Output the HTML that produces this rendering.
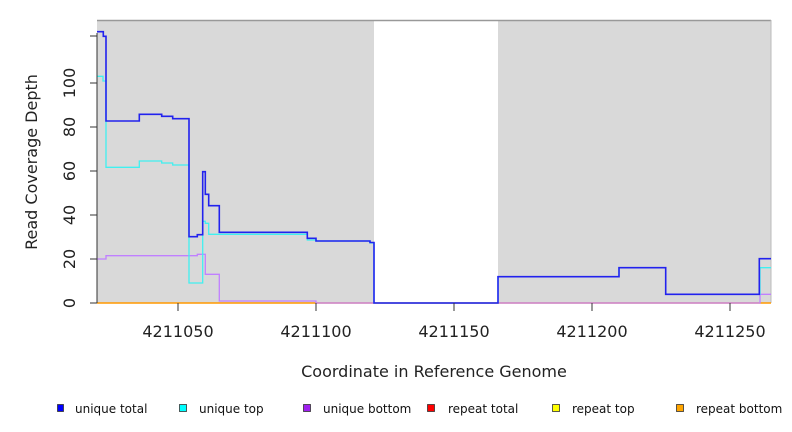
<!DOCTYPE html>
<html><head><meta charset="utf-8"><style>body{margin:0;background:#fff}svg{display:block}text{font-family:"DejaVu Sans","Liberation Sans",sans-serif}</style></head><body>
<svg width="792" height="432" viewBox="0 0 792 432" xmlns="http://www.w3.org/2000/svg">
<rect x="97" y="20" width="277" height="283" fill="#d9d9d9"/>
<rect x="498" y="20" width="273" height="283" fill="#d9d9d9"/>
<line x1="97" y1="20.5" x2="771" y2="20.5" stroke="#999" stroke-width="1.5"/>
<line x1="771" y1="20" x2="771" y2="303" stroke="#bbb"/>
<line x1="97" y1="303" x2="771" y2="303" stroke="#ff9900" stroke-width="1.5"/>
<polyline fill="none" stroke="#c080ff" stroke-width="1.3" points="97,259 106,259 106,255.7 197.3,255.7 197.3,254.3 205.3,254.3 205.3,274.3 219.3,274.3 219.3,301 316,301 316,303 760,303 760,294.3 771,294.3"/>
<polyline fill="none" stroke="#40f0f0" stroke-width="1.3" points="97,76.3 103,76.3 103,81 106,81 106,167.3 139.3,167.3 139.3,161 161.7,161 161.7,163 172.7,163 172.7,165 189,165 189,283 202.7,283 202.7,221.3 205.3,221.3 205.3,223.3 208.7,223.3 208.7,234.3 307.3,234.3 307.3,240 316,240 316,241 370,241 370,243 374,243 374,303 498,303 498,276.7 619,276.7 619,267.7 665.7,267.7 665.7,294.3 760,294.3 760,267.7 771,267.7"/>
<polyline fill="none" stroke="#2222ee" stroke-width="1.6" points="97,31.7 103.3,31.7 103.3,36.3 106,36.3 106,121 139.3,121 139.3,114.3 161.7,114.3 161.7,116.3 172.7,116.3 172.7,118.7 189,118.7 189,236.7 197.3,236.7 197.3,234.7 202.7,234.7 202.7,171.7 205.3,171.7 205.3,194.3 208.7,194.3 208.7,205.7 219.3,205.7 219.3,232.3 307.3,232.3 307.3,238.3 316,238.3 316,241 370,241 370,242.5 374,242.5 374,303 498,303 498,276.7 619,276.7 619,267.7 665.7,267.7 665.7,294.3 759.3,294.3 759.3,258.7 771,258.7"/>
<g stroke="#333" stroke-width="1">
<line x1="97" y1="33" x2="97" y2="303"/>
<line x1="90" y1="303" x2="97" y2="303"/><line x1="90" y1="259" x2="97" y2="259"/><line x1="90" y1="215" x2="97" y2="215"/><line x1="90" y1="171" x2="97" y2="171"/><line x1="90" y1="127" x2="97" y2="127"/><line x1="90" y1="83" x2="97" y2="83"/><line x1="90" y1="36" x2="97" y2="36"/>
<line x1="178" y1="303" x2="178" y2="311"/><line x1="316" y1="303" x2="316" y2="311"/><line x1="454" y1="303" x2="454" y2="311"/><line x1="592" y1="303" x2="592" y2="311"/><line x1="730" y1="303" x2="730" y2="311"/>
</g>
<g font-size="16" fill="#222" text-anchor="middle">
<text transform="translate(75,303) rotate(-90)">0</text>
<text transform="translate(75,259) rotate(-90)">20</text>
<text transform="translate(75,215) rotate(-90)">40</text>
<text transform="translate(75,171) rotate(-90)">60</text>
<text transform="translate(75,127) rotate(-90)">80</text>
<text transform="translate(75,83) rotate(-90)">100</text>
<text x="178" y="337">4211050</text><text x="316" y="337">4211100</text><text x="454" y="337">4211150</text><text x="592" y="337">4211200</text><text x="730" y="337">4211250</text>
<text x="434" y="377">Coordinate in Reference Genome</text>
<text transform="translate(37,162) rotate(-90)">Read Coverage Depth</text>
</g>
<g font-size="12" fill="#111" stroke="#333" stroke-width="0.8">
<rect x="57.5" y="404.5" width="6" height="7" fill="#0000ff"/>
<rect x="179.5" y="404.5" width="7" height="7" fill="#00ffff"/>
<rect x="303.5" y="404.5" width="7" height="7" fill="#a020f0"/>
<rect x="427.5" y="404.5" width="7" height="7" fill="#ff0000"/>
<rect x="552.5" y="404.5" width="7" height="7" fill="#ffff00"/>
<rect x="676.5" y="404.5" width="7" height="7" fill="#ffa500"/>
<g stroke="none"><text x="75" y="413">unique total</text><text x="199" y="413">unique top</text><text x="323" y="413">unique bottom</text><text x="448" y="413">repeat total</text><text x="572" y="413">repeat top</text><text x="696" y="413">repeat bottom</text></g>
</g>
</svg>
</body></html>
